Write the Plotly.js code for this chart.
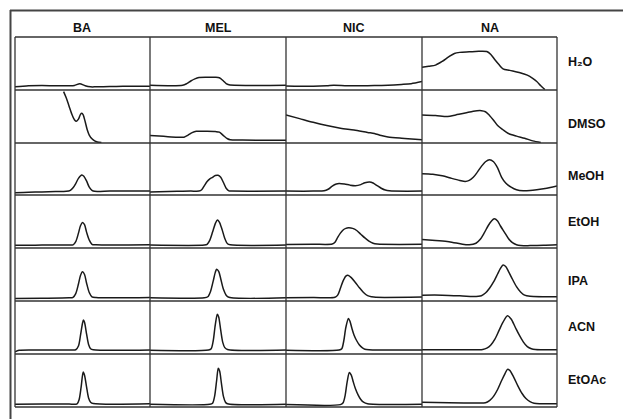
<!DOCTYPE html>
<html>
<head>
<meta charset="utf-8">
<script src="https://cdn.plot.ly/plotly-3.0.1.min.js"></script>
<style>html,body{margin:0;padding:0;background:#fff;}#chart{width:623px;height:419px;}</style>
</head>
<body>
<div id="chart"></div>
<script>
// Categories
const compounds = ["BA", "MEL", "NIC", "NA"];
const solvents = ["H₂O", "DMSO", "MeOH", "EtOH", "IPA", "ACN", "EtOAc"];
const solventKeys = ["H2O", "DMSO", "MeOH", "EtOH", "IPA", "ACN", "EtOAc"];

// ---- BA column (x = % of scan window, y = % signal) ----
const x_BA_H2O = [0,10,20,30,40,44,48,52,56,60,70,80,90,100];
const y_BA_H2O = [6,8,8.5,8,8,8.5,12,8,6,6,6.5,7,7,7];
const x_BA_DMSO = [36,38,40,42,44,45.5,47,48.5,49.5,50.5,52,53.5,55,57,59,61,64];
const y_BA_DMSO = [97,85,70,55,44,41,45,54,56,53,40,25,15,8,4,2,1];
const x_BA_MeOH = [0,10,20,30,38,41,43,45,47,49.5,51,53,55,57,59,70,80,100];
const y_BA_MeOH = [4.5,5.5,6,6.5,7,9,14,22,32,38.5,36,27,15,9,7,7.5,7.5,7.5];
const x_BA_EtOH = [0,10,20,30,40,43,45,47,48.5,50,51.5,53,55,57,60,100];
const y_BA_EtOH = [5,5,5.5,5.5,5.5,6,12,28,42,48,44,30,15,7,6,6];
const x_BA_IPA = [0,20,40,43,45,47,48.5,50,51.5,53,55,57,60,100];
const y_BA_IPA = [4.5,5,6,7,14,32,48,55,50,34,16,8,6.5,6.5];
const x_BA_ACN = [0,3,20,40,45,47,48.5,50,50.7,51.5,53,54.5,56,58,100];
const y_BA_ACN = [4,7,7.5,7.5,8,15,35,58,64,60,38,18,10,8,7.5];
const x_BA_EtOAc = [0,20,40,46,47.5,49,50.5,51.5,53,54.5,56,58,100];
const y_BA_EtOAc = [5,5.5,5.5,6,14,38,66,60,38,17,9,6.5,6];

// ---- MEL column ----
const x_MEL_H2O = [0,24,27,30,33,36,42,48,51,54,56,58,100];
const y_MEL_H2O = [9,9,12,17,21,23.5,24,24,23,17,12,10,9];
const x_MEL_DMSO = [0,10,20,25,28,31,34,42,48,51,54,57,59,68,100];
const y_MEL_DMSO = [14,12.5,11,11,15,19.5,22,22,21.5,20.5,14,8,6,5.5,5];
const x_MEL_MeOH = [0,20,30,36,38,40,42,44,46,48,50,52,54,56,58,60,100];
const y_MEL_MeOH = [6,7,7.5,7.5,10,18,26,31,34,37.5,38,34,24,13,8,7.5,7.5];
const x_MEL_EtOH = [0,40,42,44,46,48,49.5,51,53,55,57,59,100];
const y_MEL_EtOH = [5.5,5.5,7,15,30,46,53,49,35,18,8,6,5.5];
const x_MEL_IPA = [0,40,42.5,44.5,46.5,48,49,50.5,52,54,56,58,100];
const y_MEL_IPA = [6,6,8,18,38,54,60,56,42,22,11,7,6];
const x_MEL_ACN = [0,43,45,46.5,48,49.5,50.5,52,53.5,55,57,100];
const y_MEL_ACN = [7,7.5,10,25,55,75,70,45,22,12,8.5,7.5];
const x_MEL_EtOAc = [0,44,46,47.5,49,50.2,51.2,52.5,54,55.5,57,100];
const y_MEL_EtOAc = [5,5,7,20,50,73,68,45,20,9,6,5];

// ---- NIC column ----
const x_NIC_H2O = [0,10,20,30,35,45,55,65,75,85,92,100];
const y_NIC_H2O = [7.5,7,7,8,9,8,8,8.5,9,10.5,12,16];
const x_NIC_DMSO = [0,10,20,30,40,50,60,65,70,75,85,95,100];
const y_NIC_DMSO = [53,46,39,33,28,24.5,20,18,14,11.5,9,7,6];
const x_NIC_MeOH = [0,20,28,31,34,37,39,43,47,51,55,58,61.5,64,67,70,73,76,100];
const y_NIC_MeOH = [7.5,7.5,8,11,17,21,22,21,19,18,20,23.5,25,23,18,13,9.5,8,7.5];
const x_NIC_EtOH = [0,20,34,36,38,40,42,44,46,49,52,55,58,61,64,67,100];
const y_NIC_EtOH = [6.5,7,7.5,11,20,28,34,37,38,37,33,26,19,13,9,7.5,7];
const x_NIC_IPA = [0,20,36,38,40,42,44,45.5,48,51,54,57,60,63,66,100];
const y_NIC_IPA = [6,6.5,7,11,24,38,47,48.5,44,35,25,16,10,8,7,7.5];
const x_NIC_ACN = [0,39,41,42.5,44,45.9,47,48.5,50,52,54,56,58,61,100];
const y_NIC_ACN = [7,7.5,10,25,50,67,62,48,36,25,17,12,9,8,7.5];
const x_NIC_EtOAc = [0,40,42,43.5,45,46.6,48,49.5,51,53,55,57,60,100];
const y_NIC_EtOAc = [4.5,4.5,8,22,48,65,60,47,35,23,14,9,6,5];

// ---- NA column ----
const x_NA_H2O = [0,5,10,15,20,24,28,35,42,48,51,54,57,60,65,72,78,82,85,88,91];
const y_NA_H2O = [43,45,47,54,63,69,71,72,73,72.5,67,57,48,40,37,33,28,22,16,8,1];
const x_NA_DMSO = [0,10,19,25,32,38,44,47,50,53,56,60,64,70,76,82,88];
const y_NA_DMSO = [53,52,50,53,56.5,60,61,59,52,43,33,25,18,13,9,4,1];
const x_NA_MeOH = [0,8,15,22,28,32,35,38,41,44,47,50,53,56,59,62,66,70,75,80,85,90,95,100];
const y_NA_MeOH = [41,40,37,32,28,26,28,34,44,55,64,68,64,52,34,23,15,10,8,8.5,10,12,14.5,17.5];
const x_NA_EtOH = [0,10,20,30,35,40,43,46,49,51.5,53.5,56,58,61,64,67,70,73,80,90,100];
const y_NA_EtOH = [16,14,12,7,6,9,16,28,42,51,55,51,42,30,18,10,6,4.5,4.5,5,6];
const x_NA_IPA = [0,15,30,38,44,47,50,53,56,58,60,62,64,67,70,73,76,80,100];
const y_NA_IPA = [11,11,9.5,8.5,10,15,24,36,51,61,68,65,56,41,27,17,11,9,8];
const x_NA_ACN = [0,30,45,48,51,54,57,60,63.3,66,69,72,75,78,81,84,100];
const y_NA_ACN = [8,8,8.5,11,17,28,44,60,72,66,51,36,23,14,10,8.5,8];
const x_NA_EtOAc = [0,20,40,47,50,53,56,59,61.5,63.3,65,68,71,74,77,80,83,100];
const y_NA_EtOAc = [9,8,7.5,8,12,20,33,50,63,71,69,56,40,26,16,10,7,6];

const curves = {
  BA_H2O:[x_BA_H2O,y_BA_H2O], BA_DMSO:[x_BA_DMSO,y_BA_DMSO], BA_MeOH:[x_BA_MeOH,y_BA_MeOH],
  BA_EtOH:[x_BA_EtOH,y_BA_EtOH], BA_IPA:[x_BA_IPA,y_BA_IPA], BA_ACN:[x_BA_ACN,y_BA_ACN], BA_EtOAc:[x_BA_EtOAc,y_BA_EtOAc],
  MEL_H2O:[x_MEL_H2O,y_MEL_H2O], MEL_DMSO:[x_MEL_DMSO,y_MEL_DMSO], MEL_MeOH:[x_MEL_MeOH,y_MEL_MeOH],
  MEL_EtOH:[x_MEL_EtOH,y_MEL_EtOH], MEL_IPA:[x_MEL_IPA,y_MEL_IPA], MEL_ACN:[x_MEL_ACN,y_MEL_ACN], MEL_EtOAc:[x_MEL_EtOAc,y_MEL_EtOAc],
  NIC_H2O:[x_NIC_H2O,y_NIC_H2O], NIC_DMSO:[x_NIC_DMSO,y_NIC_DMSO], NIC_MeOH:[x_NIC_MeOH,y_NIC_MeOH],
  NIC_EtOH:[x_NIC_EtOH,y_NIC_EtOH], NIC_IPA:[x_NIC_IPA,y_NIC_IPA], NIC_ACN:[x_NIC_ACN,y_NIC_ACN], NIC_EtOAc:[x_NIC_EtOAc,y_NIC_EtOAc],
  NA_H2O:[x_NA_H2O,y_NA_H2O], NA_DMSO:[x_NA_DMSO,y_NA_DMSO], NA_MeOH:[x_NA_MeOH,y_NA_MeOH],
  NA_EtOH:[x_NA_EtOH,y_NA_EtOH], NA_IPA:[x_NA_IPA,y_NA_IPA], NA_ACN:[x_NA_ACN,y_NA_ACN], NA_EtOAc:[x_NA_EtOAc,y_NA_EtOAc]
};

// ---- Layout geometry (pixels) ----
const W = 623, H = 419;
const colEdges = [15, 150, 286, 422, 557];
const rowEdges = [37, 90, 143, 195, 248, 301, 354, 407];
const labelY = [62, 124, 176, 222, 281, 327, 380];

const traces = [];
const layout = {
  width: W, height: H,
  margin: {l:0, r:0, t:0, b:0, pad:0},
  paper_bgcolor: "#ffffff", plot_bgcolor: "rgba(0,0,0,0)",
  showlegend: false,
  font: {family: "Liberation Sans, Arial, sans-serif", color: "#111"},
  shapes: [], annotations: []
};

compounds.forEach((c, ci) => {
  const xa = "xaxis" + (ci === 0 ? "" : ci + 1);
  layout[xa] = {domain: [colEdges[ci] / W, colEdges[ci + 1] / W], range: [0, 100], visible: false, fixedrange: true};
  layout.annotations.push({
    text: "<b>" + c + "</b>", xref: "paper", yref: "paper",
    x: (colEdges[ci] + colEdges[ci + 1]) / 2 / W, y: 1 - 28 / H,
    xanchor: "center", yanchor: "middle", showarrow: false,
    font: {size: 12.5, color: "#111"}
  });
});

solvents.forEach((s, ri) => {
  const ya = "yaxis" + (ri === 0 ? "" : ri + 1);
  layout[ya] = {domain: [1 - rowEdges[ri + 1] / H, 1 - rowEdges[ri] / H], range: [0, 100], visible: false, fixedrange: true};
  layout.annotations.push({
    text: "<b>" + s + "</b>", xref: "paper", yref: "paper",
    x: 566 / W, y: 1 - labelY[ri] / H,
    xanchor: "left", yanchor: "middle", showarrow: false,
    font: {size: 12.5, color: "#111"}
  });
});

compounds.forEach((c, ci) => {
  solventKeys.forEach((s, ri) => {
    const d = curves[c + "_" + s];
    traces.push({
      type: "scatter", mode: "lines",
      x: d[0], y: d[1],
      xaxis: "x" + (ci === 0 ? "" : ci + 1),
      yaxis: "y" + (ri === 0 ? "" : ri + 1),
      line: {color: "#1a1a1a", width: 1.5, shape: "spline", smoothing: 0.8},
      hoverinfo: "skip"
    });
  });
});

// grid lines
const gc = "#333333";
colEdges.forEach(px => {
  layout.shapes.push({type: "line", xref: "paper", yref: "paper",
    x0: px / W, x1: px / W, y0: 1 - rowEdges[0] / H, y1: 1 - rowEdges[rowEdges.length - 1] / H,
    line: {color: gc, width: 1.3}});
});
rowEdges.forEach(py => {
  layout.shapes.push({type: "line", xref: "paper", yref: "paper",
    x0: colEdges[0] / W, x1: colEdges[colEdges.length - 1] / W, y0: 1 - py / H, y1: 1 - py / H,
    line: {color: gc, width: 1.3}});
});
// outer frame (left and top)
layout.shapes.push({type: "line", xref: "paper", yref: "paper", x0: 10.5 / W, x1: 10.5 / W, y0: 0, y1: 1 - 10 / H, line: {color: "#444", width: 2}});
layout.shapes.push({type: "line", xref: "paper", yref: "paper", x0: 10 / W, x1: 1, y0: 1 - 10.5 / H, y1: 1 - 10.5 / H, line: {color: "#444", width: 2}});

Plotly.newPlot("chart", traces, layout, {displayModeBar: false, staticPlot: true});
</script>
</body>
</html>
